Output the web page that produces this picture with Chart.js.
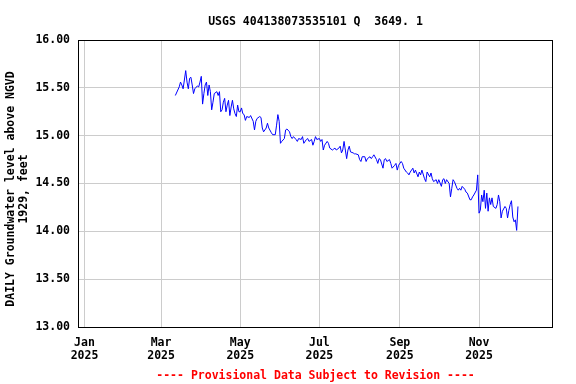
<!DOCTYPE html>
<html>
<head>
<meta charset="utf-8">
<script src="https://cdn.jsdelivr.net/npm/chart.js@4.4.1/dist/chart.umd.min.js"></script>
<style>
  html, body { margin: 0; padding: 0; background: #ffffff; }
  #chart { display: block; }
</style>
</head>
<body>
<canvas id="chart" width="576" height="384"></canvas>
<script>
// Groundwater level, day of year 2025 (0 = Jan 1) and feet above NGVD 1929
const days = [
  70, 73, 74, 75, 76, 78, 79, 80, 81, 82, 83, 84, 85, 87, 88, 89, 90, 91, 92, 93,
  94, 95, 96, 97, 98, 99, 100, 102, 103, 104, 105, 106, 107, 108, 109, 110, 111, 112, 113, 114,
  115, 116, 117, 118, 119, 120, 121, 122, 123, 124, 125, 127, 128, 130, 131, 132, 133, 135, 136, 137,
  138, 140, 141, 142, 144, 145, 147, 148, 149, 150, 151, 152, 154, 155, 156, 158, 159, 160, 161, 163,
  164, 165, 167, 168, 169, 171, 172, 173, 175, 176, 177, 178, 179, 181, 182, 183, 184, 185, 187, 188,
  189, 191, 192, 193, 194, 196, 197, 198, 199, 200, 201, 202, 203, 204, 205, 207, 208, 209, 211, 212,
  213, 214, 216, 217, 218, 220, 221, 222, 223, 225, 226, 227, 228, 230, 231, 232, 233, 235, 236, 237,
  239, 240, 241, 242, 244, 245, 246, 248, 249, 250, 251, 253, 254, 255, 257, 258, 259, 260, 262, 263,
  264, 266, 267, 268, 269, 271, 272, 273, 275, 276, 277, 278, 279, 281, 282, 283, 284, 285, 287, 288,
  289, 290, 291, 293, 294, 295, 297, 298, 299, 300, 302, 303, 304, 305, 306, 307, 308, 309, 310, 311,
  312, 313, 314, 315, 317, 318, 319, 320, 321, 322, 324, 325, 326, 327, 328, 329, 330, 331, 332, 333,
  334
];
const levels = [
  15.42, 15.51, 15.56, 15.53, 15.49, 15.68, 15.56, 15.49, 15.60, 15.61, 15.53, 15.44, 15.49, 15.52, 15.51, 15.56, 15.62, 15.33, 15.44, 15.53,
  15.56, 15.42, 15.53, 15.46, 15.27, 15.35, 15.44, 15.46, 15.42, 15.46, 15.25, 15.27, 15.35, 15.39, 15.25, 15.32, 15.37, 15.21, 15.30, 15.37,
  15.28, 15.23, 15.20, 15.32, 15.25, 15.25, 15.29, 15.23, 15.22, 15.16, 15.20, 15.19, 15.21, 15.15, 15.06, 15.15, 15.18, 15.20, 15.19, 15.08,
  15.04, 15.08, 15.13, 15.08, 15.03, 15.01, 15.01, 15.11, 15.22, 15.15, 14.92, 14.94, 14.97, 15.06, 15.07, 15.04, 14.99, 14.97, 14.99, 14.96,
  14.94, 14.97, 14.96, 14.99, 14.92, 14.96, 14.97, 14.94, 14.96, 14.90, 14.94, 14.99, 14.96, 14.97, 14.94, 14.96, 14.85, 14.90, 14.94, 14.92,
  14.87, 14.85, 14.86, 14.87, 14.85, 14.87, 14.89, 14.82, 14.85, 14.94, 14.85, 14.76, 14.85, 14.89, 14.83, 14.82, 14.81, 14.81, 14.80, 14.75,
  14.73, 14.78, 14.78, 14.73, 14.76, 14.78, 14.76, 14.78, 14.80, 14.75, 14.71, 14.76, 14.75, 14.66, 14.75, 14.76, 14.73, 14.75, 14.71, 14.66,
  14.69, 14.71, 14.64, 14.69, 14.73, 14.71, 14.66, 14.62, 14.61, 14.59, 14.62, 14.66, 14.61, 14.64, 14.57, 14.62, 14.59, 14.64, 14.55, 14.52,
  14.62, 14.57, 14.61, 14.55, 14.52, 14.54, 14.50, 14.54, 14.47, 14.54, 14.55, 14.50, 14.54, 14.50, 14.36, 14.45, 14.54, 14.52, 14.45, 14.43,
  14.45, 14.43, 14.47, 14.44, 14.41, 14.40, 14.33, 14.33, 14.36, 14.38, 14.43, 14.59, 14.19, 14.22, 14.38, 14.31, 14.43, 14.24, 14.40, 14.21,
  14.35, 14.28, 14.35, 14.26, 14.24, 14.28, 14.38, 14.31, 14.14, 14.21, 14.26, 14.24, 14.14, 14.22, 14.28, 14.32, 14.15, 14.10, 14.12, 14.01,
  14.26
];

// x axis: month starts (day of year) and their labels
const monthDays = [0, 59, 120, 181, 243, 304];
const monthLabels = ['Jan', 'Mar', 'May', 'Jul', 'Sep', 'Nov'];
const yearLabel = '2025';
const yTicks = [13.0, 13.5, 14.0, 14.5, 15.0, 15.5, 16.0];

const titleText = 'USGS 404138073535101 Q  3649. 1';
const yTitleLines = ['DAILY Groundwater level above NGVD', '1929, feet'];
const footerText = '---- Provisional Data Subject to Revision ----';

const FONT = '"DejaVu Sans Mono", "Liberation Mono", monospace';

// Title, axis title, footer and frame drawn round the chart area
const decorPlugin = {
    id: 'decor',
    afterDraw(chart) {
        const ctx = chart.ctx;
        const area = chart.chartArea;
        const cx = (area.left + area.right) / 2;

        ctx.save();
        ctx.strokeStyle = '#000000';
        ctx.lineWidth = 1;
        ctx.strokeRect(Math.round(area.left) + 0.5, Math.round(area.top) + 0.5,
            Math.round(area.right - area.left) - 1, Math.round(area.bottom - area.top));

        ctx.fillStyle = '#000000';
        ctx.font = 'bold 11.5px ' + FONT;
        ctx.textAlign = 'center';
        ctx.textBaseline = 'middle';
        ctx.fillText(titleText, cx, 22);

        ctx.save();
        ctx.translate(11, 189);
        ctx.rotate(-Math.PI / 2);
        ctx.fillText(yTitleLines[0], 0, 0);
        ctx.fillText(yTitleLines[1], 0, 13);
        ctx.restore();

        ctx.fillStyle = '#ff0000';
        ctx.fillText(footerText, cx, 376);
        ctx.restore();
    }
};

const ctx = document.getElementById('chart').getContext('2d');
const chart = new Chart(ctx, {
    type: 'line',
    data: {
        datasets: [{
            data: days.map((d, i) => ({ x: d, y: levels[i] })),
            borderColor: '#0000ff',
            borderWidth: 1,
            pointRadius: 0,
            tension: 0,
            fill: false
        }]
    },
    options: {
        responsive: false,
        animation: false,
        events: [],
        layout: {
            padding: { top: 40, right: 23, bottom: 0, left: 0 }
        },
        plugins: {
            legend: { display: false },
            title: { display: false },
            tooltip: { enabled: false }
        },
        scales: {
            x: {
                type: 'linear',
                min: -5,
                max: 361,
                afterBuildTicks: function(scale) {
                    scale.ticks = monthDays.map(v => ({ value: v }));
                },
                afterFit: function(scale) {
                    scale.height = 57;
                },
                grid: {
                    color: '#cccccc',
                    lineWidth: 1,
                    drawTicks: false
                },
                border: { display: false },
                ticks: {
                    autoSkip: false,
                    maxRotation: 0,
                    padding: 10,
                    color: '#000000',
                    font: { family: FONT, size: 11.5, weight: 'bold', lineHeight: 1.1 },
                    callback: function(value) {
                        const i = monthDays.indexOf(value);
                        return i >= 0 ? [monthLabels[i], yearLabel] : '';
                    }
                }
            },
            y: {
                type: 'linear',
                min: 13,
                max: 16,
                afterBuildTicks: function(scale) {
                    scale.ticks = yTicks.map(v => ({ value: v }));
                },
                afterFit: function(scale) {
                    scale.width = 78;
                },
                grid: {
                    color: '#cccccc',
                    lineWidth: 1,
                    drawTicks: false
                },
                border: { display: false },
                ticks: {
                    padding: 8,
                    color: '#000000',
                    font: { family: FONT, size: 11.5, weight: 'bold' },
                    callback: function(value) {
                        return value.toFixed(2);
                    }
                }
            }
        }
    },
    plugins: [decorPlugin]
});
</script>
</body>
</html>
